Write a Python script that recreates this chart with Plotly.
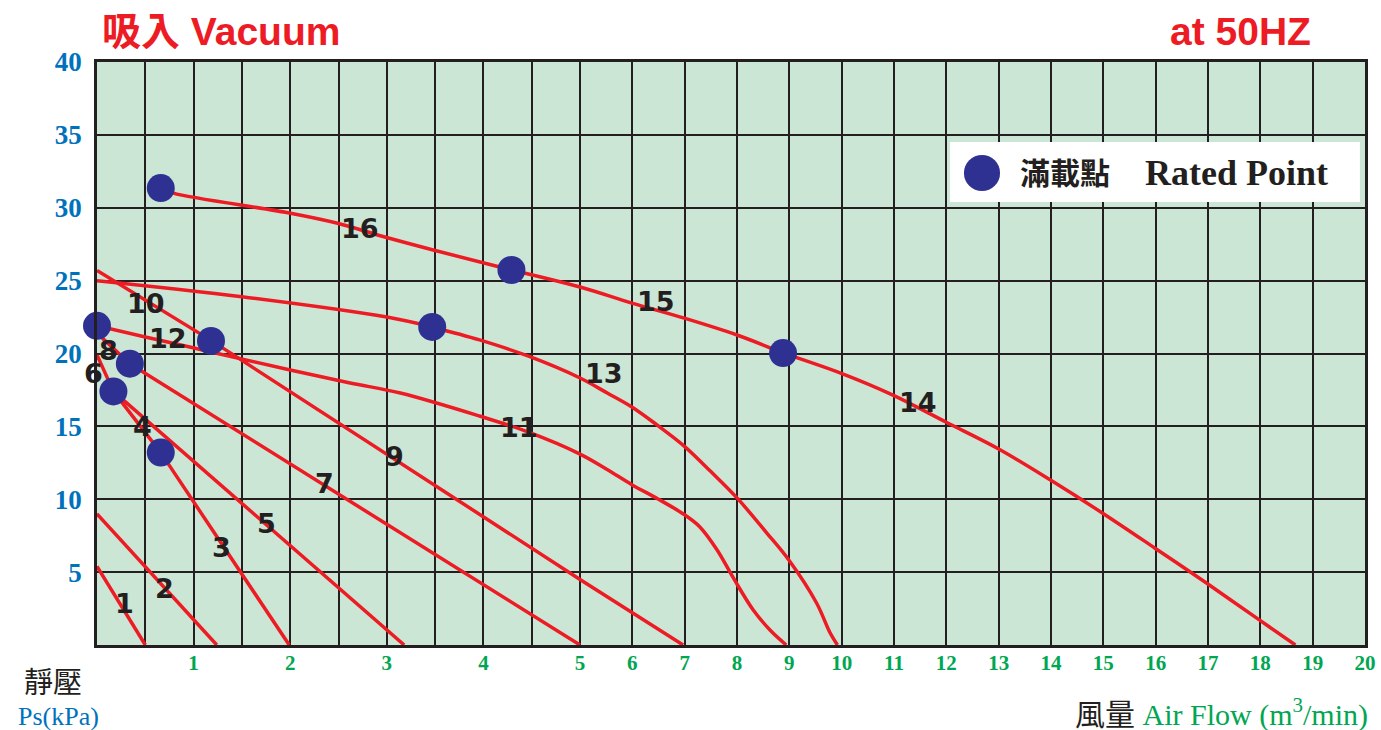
import numpy as np
import plotly.graph_objects as go

RED = "#ED1C24"
NAVY = "#2E3192"
INK = "#231F20"
BLUE = "#0072BC"
GREEN = "#00A651"
PANEL = "#CCE6D5"
SERIF = "Liberation Serif, Times New Roman, Noto Sans CJK TC, serif"
SANS_BOLD = "Liberation Sans, Arial, Noto Sans CJK TC, sans-serif"

# 0-5 m3/min is drawn on a wider scale than 5-20 m3/min
LOW_STRETCH = 96.6 / 52.33

# performance curves (flow m3/min, static pressure kPa)
C1_FLOW = [0, 0.5]
C1_KPA = [5.4, 0]
C2_FLOW = [0, 1.24]
C2_KPA = [9.0, 0]
C3_FLOW = [0.66, 1.99]
C3_KPA = [13.2, 0]
C4_FLOW = [0.17, 0.66]
C4_KPA = [17.4, 13.2]
C5_FLOW = [0.17, 3.18]
C5_KPA = [17.4, 0]
C6_FLOW = [0, 0.17]
C6_KPA = [19.9, 17.4]
C7_FLOW = [0.34, 5.0]
C7_KPA = [19.3, 0]
C8_FLOW = [0, 0.34]
C8_KPA = [21.4, 19.3]
C9_FLOW = [1.18, 5.0, 6.97]
C9_KPA = [20.9, 4.5, 0]
C10_FLOW = [0, 1.18]
C10_KPA = [25.7, 20.9]
C11_FLOW = [1.18, 2.0, 2.62, 3.14, 3.96, 4.46, 5.0, 5.5, 5.99, 6.49, 6.99, 7.29, 7.62, 7.93, 8.31, 8.63, 8.94]
C11_KPA = [20.1, 18.87, 17.98, 17.29, 15.71, 14.62, 13.1, 12.08, 11.0, 10.02, 8.95, 8.1, 6.52, 4.6, 2.4, 1.03, 0]
C12_FLOW = [0, 0.5, 0.96, 1.18]
C12_KPA = [21.9, 21.13, 20.45, 20.1]
C13A_FLOW = [0, 1.5, 3.0, 3.47]
C13A_KPA = [25.0, 23.9, 22.5, 21.82]
C13_FLOW = [3.47, 3.96, 4.46, 5.0, 5.52, 5.99, 6.47, 6.99, 7.5, 8.0, 8.57, 8.99, 9.52, 9.78, 9.92]
C13_KPA = [21.82, 20.93, 19.83, 18.32, 17.29, 16.33, 15.1, 13.65, 11.9, 10.09, 7.68, 5.83, 2.88, 0.82, 0]
C16_FLOW = [0.66, 0.79, 1.99, 2.48, 2.98, 3.48, 4.29]
C16_KPA = [31.35, 31.0, 29.64, 28.95, 27.99, 27.1, 25.73]
C15_FLOW = [4.29, 5.0, 5.99, 6.99, 8.0, 8.88]
C15_KPA = [25.73, 24.56, 23.46, 22.43, 21.27, 20.03]
C14_FLOW = [8.88, 9.98, 10.98, 11.99, 13.0, 13.99, 14.98, 15.98, 16.97, 17.98, 18.67]
C14_KPA = [20.03, 18.66, 17.15, 15.3, 13.45, 11.32, 9.06, 6.66, 4.25, 1.72, 0]

# rated points
RATED_FLOW = [0, 0.17, 0.34, 0.66, 1.18, 0.66, 3.47, 4.29, 8.88]
RATED_KPA = [21.9, 17.4, 19.3, 13.2, 20.86, 31.35, 21.82, 25.73, 20.03]

# curve number labels
LABEL_TEXT = ["1", "2", "3", "4", "5", "6", "7", "8", "9", "10", "11", "12", "13", "14", "15", "16"]
LABEL_FLOW = [0.28, 0.70, 1.29, 0.476, 1.75, 0.0, 2.36, 0.114, 3.08, 0.507, 4.37, 0.735, 5.46, 11.45, 6.45, 2.72]
LABEL_KPA = [2.88, 3.91, 6.66, 14.96, 8.37, 18.66, 11.05, 20.24, 12.9, 23.46, 14.89, 21.06, 18.66, 16.67, 23.6, 28.6]

X_TICKS = [1, 2, 3, 4, 5, 6, 7, 8, 9, 10, 11, 12, 13, 14, 15, 16, 17, 18, 19, 20]
X_HALF_GRID = [0.5, 1.5, 2.5, 3.5, 4.5]
Y_TICKS = [5, 10, 15, 20, 25, 30, 35, 40]


def to_axis(flows):
    f = np.asarray(flows, dtype=float)
    return np.where(f <= 5, f * LOW_STRETCH, 5 * LOW_STRETCH + (f - 5))


fig = go.Figure()

curves = [
    (C1_FLOW, C1_KPA, "linear"), (C2_FLOW, C2_KPA, "linear"), (C3_FLOW, C3_KPA, "linear"),
    (C4_FLOW, C4_KPA, "linear"), (C5_FLOW, C5_KPA, "linear"), (C6_FLOW, C6_KPA, "linear"),
    (C7_FLOW, C7_KPA, "linear"), (C8_FLOW, C8_KPA, "linear"), (C9_FLOW, C9_KPA, "linear"),
    (C10_FLOW, C10_KPA, "linear"), (C11_FLOW, C11_KPA, "spline"), (C12_FLOW, C12_KPA, "spline"),
    (C13A_FLOW, C13A_KPA, "spline"), (C13_FLOW, C13_KPA, "spline"),
    (C16_FLOW, C16_KPA, "spline"), (C15_FLOW, C15_KPA, "spline"), (C14_FLOW, C14_KPA, "spline"),
]
for flow, kpa, shape in curves:
    fig.add_trace(go.Scatter(
        x=to_axis(flow), y=kpa, mode="lines",
        line=dict(color=RED, width=3.5, shape=shape, smoothing=1.0),
        hoverinfo="skip", showlegend=False, cliponaxis=False,
    ))

fig.add_trace(go.Scatter(
    x=to_axis(RATED_FLOW), y=RATED_KPA, mode="markers",
    marker=dict(color=NAVY, size=28, line=dict(width=0)),
    showlegend=False, cliponaxis=False,
))

for text, flow, kpa in zip(LABEL_TEXT, LABEL_FLOW, LABEL_KPA):
    fig.add_annotation(
        x=float(to_axis([flow])[0]), y=kpa, text=text, showarrow=False,
        xshift=-4 if text == "6" else 0,
        font=dict(family="DejaVu Sans, Verdana, sans-serif", size=27, color=INK, weight="bold"),
    )

# headings and axis captions
fig.add_annotation(x=0.002, y=1.052, xref="paper", yref="paper", xanchor="left", yanchor="middle",
                   text="吸入 Vacuum", showarrow=False,
                   font=dict(family=SANS_BOLD, size=39, color=RED, weight="bold"))
fig.add_annotation(x=0.959, y=1.052, xref="paper", yref="paper", xanchor="right", yanchor="middle",
                   text="at 50HZ", showarrow=False,
                   font=dict(family=SANS_BOLD, size=39, color=RED, weight="bold"))
fig.add_annotation(x=-0.0347, y=-0.065, xref="paper", yref="paper", xanchor="center", yanchor="middle",
                   text="靜壓", showarrow=False, font=dict(family=SERIF, size=29, color=INK))
fig.add_annotation(x=-0.030, y=-0.122, xref="paper", yref="paper", xanchor="center", yanchor="middle",
                   text="Ps(kPa)", showarrow=False, font=dict(family=SERIF, size=26, color=BLUE))
fig.add_annotation(x=1.004, y=-0.116, xref="paper", yref="paper", xanchor="right", yanchor="middle",
                   text=f"<span style='color:{INK}'>風量</span> Air Flow (m<sup>3</sup>/min)",
                   showarrow=False, font=dict(family=SERIF, size=30, color=GREEN))

# rated point key
fig.add_shape(type="rect", xref="paper", yref="paper", x0=0.6727, x1=0.996, y0=0.7599, y1=0.8628,
              fillcolor="white", line=dict(width=0))
fig.add_shape(type="circle", xref="paper", yref="paper", x0=0.6837, x1=0.7122, y0=0.7787, y1=0.8405,
              fillcolor=NAVY, line=dict(width=0))
fig.add_annotation(x=0.7263, y=0.8096, xref="paper", yref="paper", xanchor="left", yanchor="middle",
                   text="滿載點", showarrow=False,
                   font=dict(family=SERIF, size=30, color=INK, weight="bold"))
fig.add_annotation(x=0.8249, y=0.8096, xref="paper", yref="paper", xanchor="left", yanchor="middle",
                   text="Rated Point", showarrow=False,
                   font=dict(family=SERIF, size=36, color=INK, weight="bold"))

fig.update_xaxes(
    range=[0, float(to_axis([20])[0]) + 1e-6], automargin=False,
    tickmode="array", tickvals=to_axis(X_TICKS), ticktext=[str(v) for v in X_TICKS],
    showgrid=True, gridcolor=INK, gridwidth=2,
    minor=dict(tickmode="array", tickvals=to_axis(X_HALF_GRID), showgrid=True,
               gridcolor=INK, gridwidth=2, ticks=""),
    showline=True, linecolor=INK, linewidth=2.5, mirror=True, zeroline=False,
    ticks="", ticklabelstandoff=-3,
    tickfont=dict(family=SERIF, size=21, color=GREEN, weight="bold"),
)
fig.update_yaxes(
    range=[0, 40], automargin=False,
    tickmode="array", tickvals=Y_TICKS, ticktext=[str(v) for v in Y_TICKS],
    showgrid=True, gridcolor=INK, gridwidth=2,
    showline=True, linecolor=INK, linewidth=2.5, mirror=True, zeroline=False,
    ticks="outside", ticklen=7, tickcolor="rgba(0,0,0,0)",
    tickfont=dict(family=SERIF, size=27, color=BLUE, weight="bold"),
)
fig.update_layout(
    width=1381, height=730,
    paper_bgcolor="white", plot_bgcolor=PANEL,
    margin=dict(l=97, r=16, t=62, b=85),
    showlegend=False,
)

# drop the default page margin so the figure fills the window exactly
fig.write_html(
    "out.html",
    config={"displayModeBar": False},
    post_script="document.documentElement.style.overflow='hidden';"
                "document.body.style.margin='0';document.body.style.overflow='hidden';",
)
